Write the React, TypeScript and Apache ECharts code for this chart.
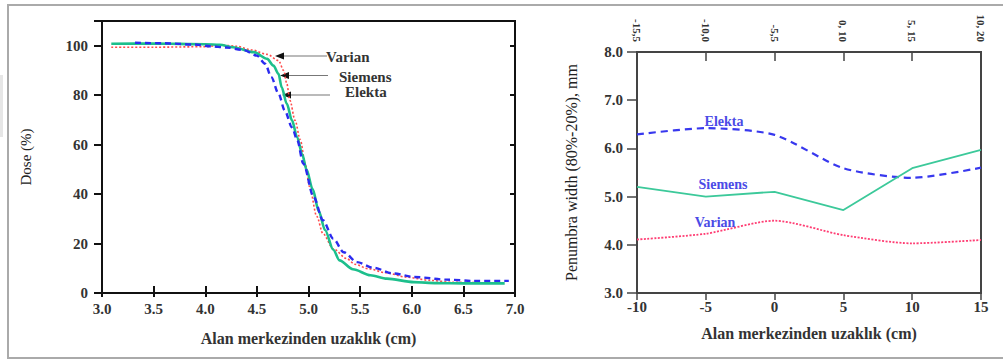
import React, { useEffect, useRef } from "react";
import * as echarts from "echarts";

// ---- Left panel: dose profiles (x in cm, dose in %) ----
const siemensX = [3.09, 3.5, 4.0, 4.14, 4.27, 4.47, 4.6, 4.66, 4.71, 4.74, 4.79, 4.84, 4.89, 4.94, 4.98, 5.04, 5.1, 5.16, 5.24, 5.3, 5.43, 5.6, 5.76, 6.02, 6.24, 6.5, 6.9];
const siemensY = [100.8, 100.9, 100.6, 100.4, 99.4, 97.4, 94.7, 92.0, 88.6, 83.2, 76.5, 69.8, 63.0, 56.0, 50.0, 42.0, 33.0, 25.5, 17.5, 13.2, 9.6, 7.2, 5.8, 4.4, 4.0, 3.9, 3.9];

const varianX = [3.09, 3.5, 4.0, 4.15, 4.3, 4.45, 4.6, 4.71, 4.76, 4.79, 4.82, 4.87, 4.92, 4.97, 5.01, 5.08, 5.14, 5.24, 5.37, 5.45, 5.58, 5.75, 5.95, 6.18, 6.4, 6.85];
const varianY = [99.4, 99.4, 99.6, 100.3, 99.8, 98.3, 96.5, 94.0, 90.0, 84.6, 77.9, 69.8, 62.0, 52.0, 43.0, 31.0, 24.0, 17.9, 13.9, 11.6, 9.8, 8.2, 6.4, 5.1, 4.3, 4.0];

const elektaX = [3.32, 3.6, 3.9, 4.05, 4.2, 4.37, 4.5, 4.58, 4.64, 4.71, 4.77, 4.84, 4.89, 4.95, 5.05, 5.14, 5.24, 5.34, 5.47, 5.63, 5.82, 6.02, 6.34, 6.6, 6.94];
const elektaY = [101.2, 101.0, 100.5, 99.8, 99.3, 98.3, 96.0, 92.7, 87.3, 80.6, 73.8, 67.0, 62.0, 52.3, 38.8, 29.4, 22.0, 16.5, 12.5, 10.2, 7.9, 6.5, 5.4, 4.9, 4.9];

// ---- Right panel: penumbra width (mm) vs distance from field centre (cm) ----
const offAxisX = [-10, -5, 0, 5, 10, 15];
const topTickLabels = ["-15,5", "-10,0", "-5,5", "0, 10", "5, 15", "10, 20"];
const elektaPenumbra = [6.29, 6.42, 6.28, 5.59, 5.39, 5.6];
const siemensPenumbra = [5.2, 5.0, 5.1, 4.72, 5.59, 5.97];
const varianPenumbra = [4.11, 4.23, 4.5, 4.2, 4.03, 4.1];

const SERIF = "Liberation Serif";

const zip = (xs: number[], ys: number[]) => xs.map((x, i) => [x, ys[i]]);

export default function App() {
  const ref = useRef<HTMLDivElement>(null);

  useEffect(() => {
    if (!ref.current) return;
    const chart = echarts.init(ref.current, undefined, { renderer: "svg" });

    const tickLabel = { fontFamily: SERIF, fontSize: 15, fontWeight: "bold" as const, color: "#333" };
    const nameStyle = { fontFamily: SERIF, fontSize: 16, fontWeight: "bold" as const, color: "#333" };

    const arrow = (tipX: number, y: number, endX: number) => [
      { type: "line", shape: { x1: tipX + 6, y1: y, x2: endX, y2: y }, style: { stroke: "#777", lineWidth: 1.2 } },
      { type: "polygon", shape: { points: [[tipX, y], [tipX + 9, y - 3.5], [tipX + 9, y + 3.5]] }, style: { fill: "#111" } },
    ];

    const option: any = {
      animation: false,
      backgroundColor: "#fff",
      grid: [
        { left: 102, right: 488, top: 21, bottom: 67, show: true, borderColor: "#111", borderWidth: 2, backgroundColor: "transparent" },
        { left: 637, right: 22, top: 52, bottom: 67, show: true, borderColor: "#444", borderWidth: 2, backgroundColor: "transparent" },
      ],
      xAxis: [
        {
          gridIndex: 0, type: "value", min: 3, max: 7, interval: 0.5, position: "bottom",
          axisLine: { onZero: false, lineStyle: { color: "#111", width: 2 } },
          axisTick: { length: 4, lineStyle: { color: "#111", width: 2 } },
          axisLabel: { ...tickLabel, margin: 8, formatter: (v: number) => v.toFixed(1) },
          splitLine: { show: false },
          name: "Alan merkezinden uzaklık (cm)", nameLocation: "middle", nameGap: 37, nameTextStyle: nameStyle,
        },
        {
          gridIndex: 0, type: "value", min: 3, max: 7, interval: 0.5, position: "bottom",
          axisLine: { show: false, onZero: false },
          axisTick: { inside: true, length: 7, lineStyle: { color: "#111", width: 2 } },
          axisLabel: { show: false }, splitLine: { show: false },
        },
        {
          gridIndex: 1, type: "value", min: -10, max: 15, interval: 5, position: "bottom",
          axisLine: { onZero: false, lineStyle: { color: "#444", width: 2 } },
          axisTick: { length: 7, lineStyle: { color: "#444", width: 1.5 } },
          axisLabel: { ...tickLabel, margin: 6 },
          splitLine: { show: false },
          name: "Alan merkezinden uzaklık (cm)", nameLocation: "middle", nameGap: 32, nameTextStyle: nameStyle,
        },
        {
          gridIndex: 1, type: "value", min: -10, max: 15, interval: 5, position: "top",
          axisLine: { onZero: false, lineStyle: { color: "#444", width: 2 } },
          axisTick: { inside: true, length: 9, lineStyle: { color: "#444", width: 1.5 } },
          axisLabel: {
            fontFamily: SERIF, fontSize: 11, fontWeight: "bold", color: "#333", rotate: 90, margin: 10,
            formatter: (v: number) => topTickLabels[offAxisX.indexOf(v)] ?? "",
          },
          splitLine: { show: false },
        },
      ],
      yAxis: [
        {
          gridIndex: 0, type: "value", min: 0, max: 110, interval: 20,
          axisLine: { onZero: false, lineStyle: { color: "#111", width: 2 } },
          axisTick: { length: 8, lineStyle: { color: "#111", width: 2 } },
          axisLabel: { ...tickLabel, margin: 14, formatter: (v: number) => (v > 100 ? "" : String(v)) },
          splitLine: { show: false },
          name: "Dose (%)", nameLocation: "middle", nameGap: 69,
          nameTextStyle: { fontFamily: SERIF, fontSize: 15, color: "#222" },
        },
        {
          gridIndex: 0, type: "value", min: 0, max: 110, interval: 20,
          axisLine: { show: false, onZero: false },
          axisTick: { inside: true, length: 5, lineStyle: { color: "#111", width: 2 } },
          axisLabel: { show: false }, splitLine: { show: false },
        },
        {
          gridIndex: 1, type: "value", min: 3, max: 8, interval: 1,
          axisLine: { onZero: false, lineStyle: { color: "#444", width: 2 } },
          axisTick: { length: 10, lineStyle: { color: "#444", width: 1.5 } },
          axisLabel: { ...tickLabel, margin: 14, formatter: (v: number) => v.toFixed(1) },
          splitLine: { show: false },
          name: "Penumbra width (80%-20%), mm", nameLocation: "middle", nameGap: 58,
          nameTextStyle: { fontFamily: SERIF, fontSize: 16, color: "#222" },
        },
      ],
      series: [
        {
          name: "Varian", type: "line", xAxisIndex: 0, yAxisIndex: 0, data: zip(varianX, varianY),
          showSymbol: false, smooth: 0.3, smoothMonotone: "x",
          lineStyle: { color: "#ff4a4a", width: 1.6, type: [2, 2] },
        },
        {
          name: "Siemens", type: "line", xAxisIndex: 0, yAxisIndex: 0, data: zip(siemensX, siemensY),
          showSymbol: false, smooth: 0.3, smoothMonotone: "x",
          lineStyle: { color: "#1dbf8c", width: 2.6 },
        },
        {
          name: "Elekta", type: "line", xAxisIndex: 0, yAxisIndex: 0, data: zip(elektaX, elektaY),
          showSymbol: false, smooth: 0.3, smoothMonotone: "x",
          lineStyle: { color: "#2b2bef", width: 2.4, type: [6, 4] },
        },
        {
          name: "Elekta penumbra", type: "line", xAxisIndex: 2, yAxisIndex: 2, data: zip(offAxisX, elektaPenumbra),
          showSymbol: false, smooth: 0.25,
          lineStyle: { color: "#3838ee", width: 2.2, type: [7, 5] },
        },
        {
          name: "Siemens penumbra", type: "line", xAxisIndex: 2, yAxisIndex: 2, data: zip(offAxisX, siemensPenumbra),
          showSymbol: false,
          lineStyle: { color: "#3cc99a", width: 1.8 },
        },
        {
          name: "Varian penumbra", type: "line", xAxisIndex: 2, yAxisIndex: 2, data: zip(offAxisX, varianPenumbra),
          showSymbol: false, smooth: 0.25,
          lineStyle: { color: "#ff3d73", width: 1.8, type: [2, 1.5] },
        },
      ],
      graphic: [
        { type: "rect", shape: { x: 8, y: 5, width: 1010, height: 353 }, style: { fill: "none", stroke: "#aaa", lineWidth: 2 }, silent: true },
        { type: "rect", shape: { x: 0, y: 75, width: 3, height: 62 }, style: { fill: "#e6e6e6" }, silent: true },
        ...arrow(275, 56, 327),
        ...arrow(280, 75.5, 328),
        ...arrow(282, 95, 330),
        { type: "text", x: 326, y: 57, style: { text: "Varian", font: `bold 15px ${SERIF}`, fill: "#333", verticalAlign: "middle" } },
        { type: "text", x: 339, y: 77, style: { text: "Siemens", font: `bold 15px ${SERIF}`, fill: "#333", verticalAlign: "middle" } },
        { type: "text", x: 345, y: 92, style: { text: "Elekta", font: `bold 15px ${SERIF}`, fill: "#333", verticalAlign: "middle" } },
        { type: "text", x: 724, y: 121, style: { text: "Elekta", font: `bold 14px ${SERIF}`, fill: "#4b4be6", align: "center", verticalAlign: "middle" } },
        { type: "text", x: 723, y: 184, style: { text: "Siemens", font: `bold 14px ${SERIF}`, fill: "#4b4be6", align: "center", verticalAlign: "middle" } },
        { type: "text", x: 715, y: 222, style: { text: "Varian", font: `bold 14px ${SERIF}`, fill: "#4b4be6", align: "center", verticalAlign: "middle" } },
      ],
    };

    chart.setOption(option);
    return () => chart.dispose();
  }, []);

  return (
    <div
      ref={ref}
      style={{ position: "fixed", left: 0, top: 0, width: 1003, height: 360, background: "#fff" }}
    />
  );
}
